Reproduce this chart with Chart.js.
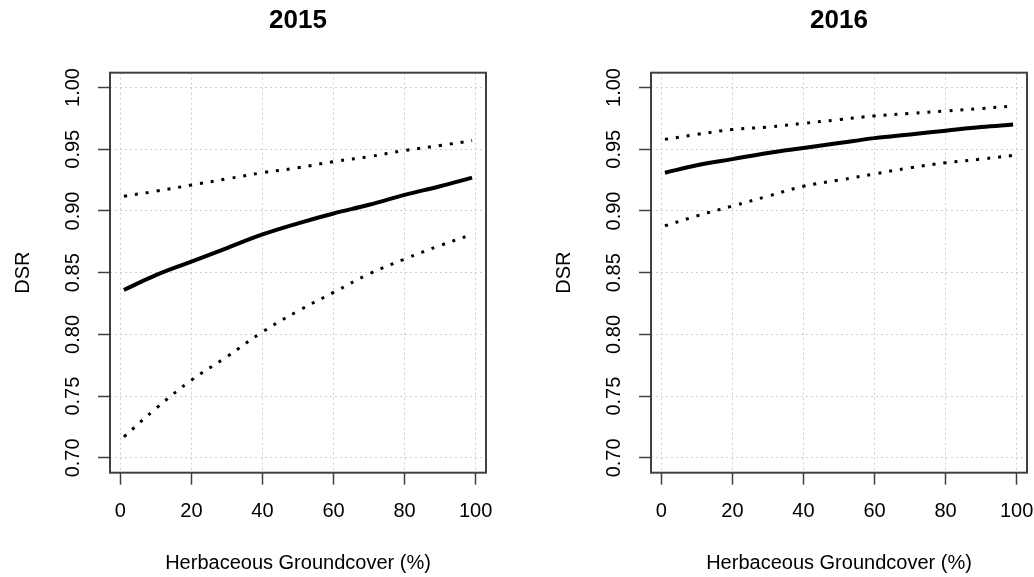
<!DOCTYPE html>
<html>
<head>
<meta charset="utf-8">
<script src="https://cdn.jsdelivr.net/npm/chart.js@4.4.1/dist/chart.umd.min.js"></script>
<style>
  body { margin: 0; background: #fff; }
  #wrap { position: relative; width: 1034px; height: 577px; }
  canvas { position: absolute; top: 0; }
</style>
</head>
<body>
<div id="wrap">
  <canvas id="chart2015" width="541" height="577" style="left:0px"></canvas>
  <canvas id="chart2016" width="493" height="577" style="left:541px"></canvas>
</div>
<script>
// herbaceous groundcover (%) where the curves were read
const groundcover = [1, 10, 20, 30, 40, 50, 60, 70, 80, 90, 99];

// 2015 daily survival rate + confidence limits
const dsr2015 = [0.836, 0.848, 0.859, 0.870, 0.881, 0.890, 0.898, 0.905, 0.913, 0.920, 0.927];
const upper2015 = [0.912, 0.916, 0.921, 0.926, 0.931, 0.935, 0.940, 0.944, 0.949, 0.953, 0.957];
const lower2015 = [0.717, 0.740, 0.763, 0.782, 0.802, 0.819, 0.834, 0.849, 0.861, 0.872, 0.881];

// 2016
const dsr2016 = [0.931, 0.937, 0.942, 0.947, 0.951, 0.955, 0.959, 0.962, 0.965, 0.968, 0.970];
const upper2016 = [0.958, 0.962, 0.966, 0.968, 0.971, 0.974, 0.977, 0.979, 0.981, 0.983, 0.985];
const lower2016 = [0.888, 0.896, 0.904, 0.912, 0.920, 0.925, 0.930, 0.935, 0.939, 0.942, 0.945];

const xTicks = [0, 20, 40, 60, 80, 100];
const yTicks = [0.70, 0.75, 0.80, 0.85, 0.90, 0.95, 1.00];

const FONT = "'Liberation Sans', Arial, Helvetica, sans-serif";
const AXIS_COL = '#404040';

function pts(ys) {
    return groundcover.map((x, i) => ({ x: x, y: ys[i] }));
}

// box around the plot region (R style)
const boxPlugin = {
    id: 'box',
    afterDraw(chart) {
        const a = chart.chartArea;
        const ctx = chart.ctx;
        ctx.save();
        ctx.strokeStyle = AXIS_COL;
        ctx.lineWidth = 2;
        ctx.strokeRect(a.left, a.top, a.right - a.left, a.bottom - a.top);
        ctx.restore();
    }
};

function makeChart(id, year, mean, upper, lower, rightPad) {
    const ctx = document.getElementById(id).getContext('2d');
    const dotted = { borderColor: '#000', borderWidth: 3, borderDash: [3, 8], pointRadius: 0, fill: false, tension: 0.4, borderCapStyle: 'butt' };
    return new Chart(ctx, {
        type: 'line',
        data: {
            datasets: [
                Object.assign({ label: 'upper', data: pts(upper) }, dotted),
                { label: 'DSR', data: pts(mean), borderColor: '#000', borderWidth: 4, pointRadius: 0, fill: false, tension: 0.4 },
                Object.assign({ label: 'lower', data: pts(lower) }, dotted)
            ]
        },
        options: {
            responsive: false,
            animation: false,
            devicePixelRatio: 1,
            layout: { padding: { left: 0, right: rightPad, top: 0, bottom: 0 } },
            plugins: {
                legend: { display: false },
                tooltip: { enabled: false },
                title: {
                    display: true,
                    fullSize: false,
                    text: year,
                    color: '#000',
                    font: { family: FONT, size: 26, weight: 'bold' },
                    padding: { top: 5.6, bottom: 35.9 }
                }
            },
            scales: {
                x: {
                    type: 'linear',
                    min: -2.92,
                    max: 102.92,
                    afterBuildTicks: s => { s.ticks = xTicks.map(v => ({ value: v })); },
                    afterFit: s => { s.height = 104.3; s.paddingLeft = 0; s.paddingRight = 0; },
                    grid: { color: '#cfcfcf', lineWidth: 1, tickLength: 12, tickColor: AXIS_COL, tickWidth: 1.5, tickBorderDash: [] },
                    border: { display: false, dash: [2, 3] },
                    ticks: { color: '#000', font: { family: FONT, size: 20 }, padding: 15, maxRotation: 0, autoSkip: false, callback: v => String(v) },
                    title: { display: true, text: 'Herbaceous Groundcover (%)', color: '#000', font: { family: FONT, size: 20 }, padding: { top: 0, bottom: 2 } }
                },
                y: {
                    type: 'linear',
                    min: 0.688,
                    max: 1.012,
                    afterBuildTicks: s => { s.ticks = yTicks.map(v => ({ value: v })); },
                    afterFit: s => { s.width = 110; s.paddingTop = 0; s.paddingBottom = 0; },
                    grid: { color: '#cfcfcf', lineWidth: 1, tickLength: 12, tickColor: AXIS_COL, tickWidth: 1.5, tickBorderDash: [] },
                    border: { display: false, dash: [2, 3] },
                    ticks: { color: '#000', font: { family: FONT, size: 20 }, padding: 5, minRotation: 90, maxRotation: 90, crossAlign: 'center', autoSkip: false, callback: v => v.toFixed(2) },
                    title: { display: true, text: 'DSR', color: '#000', font: { family: FONT, size: 20 }, padding: { top: 11, bottom: 0 } }
                }
            }
        },
        plugins: [boxPlugin]
    });
}

makeChart('chart2015', '2015', dsr2015, upper2015, lower2015, 55);
makeChart('chart2016', '2016', dsr2016, upper2016, lower2016, 7);
</script>
</body>
</html>
